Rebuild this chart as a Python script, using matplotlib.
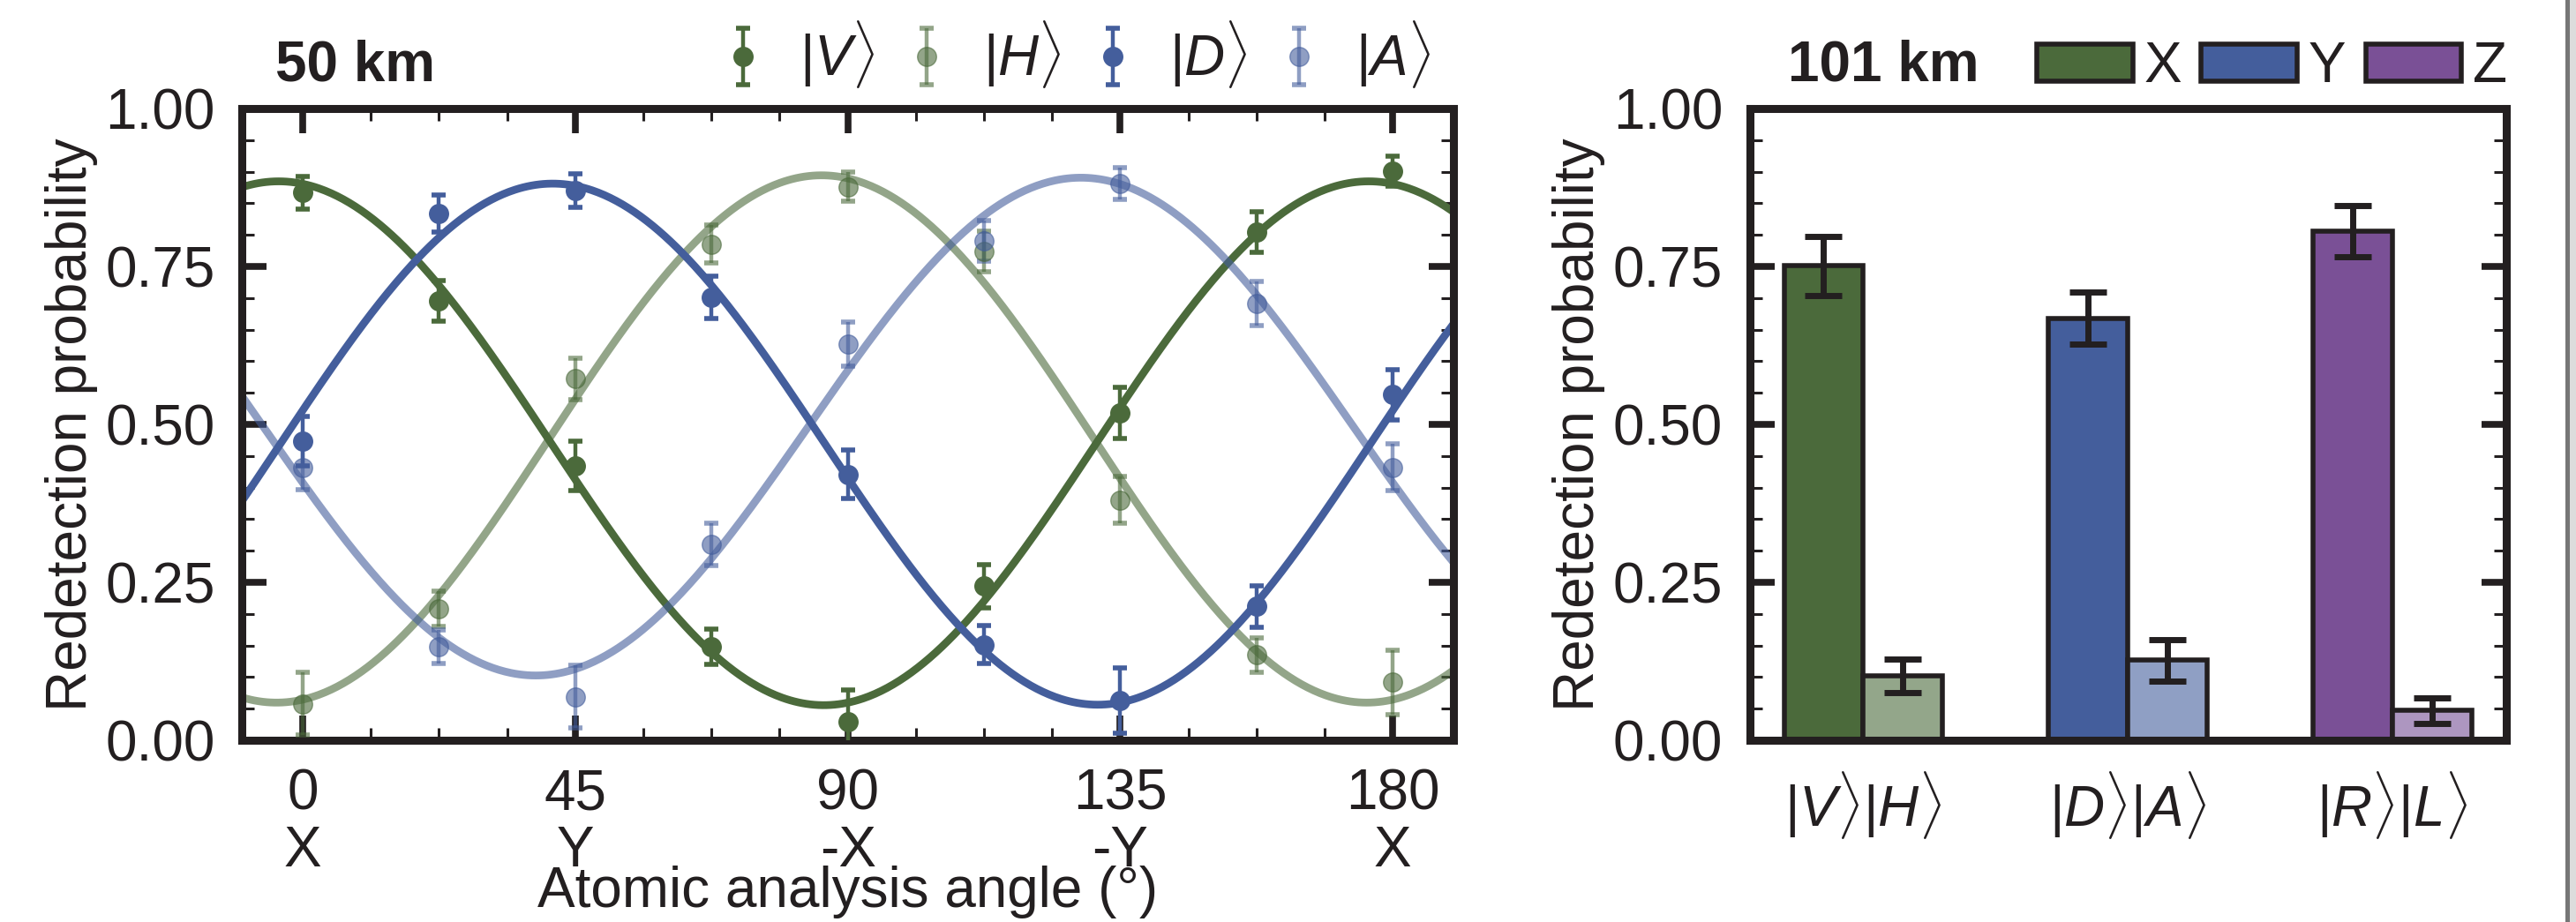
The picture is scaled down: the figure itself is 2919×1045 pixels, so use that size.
import numpy as np
import matplotlib
matplotlib.use('Agg')
import matplotlib.pyplot as plt
from matplotlib.patches import Patch, Rectangle

# ---------------- data ----------------
angles = [0, 22.5, 45, 67.5, 90, 112.5, 135, 157.5, 180]
V_vals = [0.867, 0.696, 0.434, 0.148, 0.029, 0.244, 0.518, 0.805, 0.901]
V_err = [0.026, 0.032, 0.039, 0.028, 0.050, 0.034, 0.040, 0.032, 0.024]
H_vals = [0.058, 0.208, 0.572, 0.785, 0.876, 0.774, 0.380, 0.135, 0.092]
H_err = [0.050, 0.028, 0.033, 0.030, 0.023, 0.032, 0.037, 0.027, 0.051]
D_vals = [0.473, 0.834, 0.870, 0.701, 0.421, 0.151, 0.063, 0.212, 0.547]
D_err = [0.039, 0.029, 0.027, 0.033, 0.038, 0.030, 0.052, 0.033, 0.040]
A_vals = [0.432, 0.148, 0.069, 0.310, 0.627, 0.790, 0.881, 0.691, 0.432]
A_err = [0.035, 0.026, 0.050, 0.033, 0.035, 0.032, 0.025, 0.035, 0.037]
series_labels = [r'$|V\rangle$', r'$|H\rangle$', r'$|D\rangle$', r'$|A\rangle$']

xtick_vals = [0, 45, 90, 135, 180]
xtick_labels = ['0\nX', '45\nY', '90\n-X', '135\n-Y', '180\nX']

bar_groups = [r'$|V\rangle|H\rangle$', r'$|D\rangle|A\rangle$', r'$|R\rangle|L\rangle$']
bar_high = [0.751, 0.668, 0.806]
bar_high_err = [0.047, 0.041, 0.040]
bar_low = [0.102, 0.1265, 0.047]
bar_low_err = [0.027, 0.033, 0.020]
basis_labels = ['X', 'Y', 'Z']

# ---------------- style ----------------
INK = '#231f20'
GREEN = '#4b6a3b'
BLUE = '#445e9c'
PURPLE = '#7a5096'
LIGHT = {GREEN: '#93a68a', BLUE: '#8f9fc4', PURPLE: '#ad96c0'}
FS = 46

plt.rcParams['font.family'] = ['Liberation Sans', 'DejaVu Sans']
plt.rcParams['mathtext.fontset'] = 'custom'
plt.rcParams['mathtext.rm'] = 'Liberation Sans'
plt.rcParams['mathtext.it'] = 'Liberation Sans:italic'
plt.rcParams['mathtext.bf'] = 'Liberation Sans:bold'
for k in ['text.color', 'axes.labelcolor', 'xtick.color', 'ytick.color', 'axes.edgecolor']:
    plt.rcParams[k] = INK

fig = plt.figure(figsize=(29.19, 10.45), dpi=100)
ax1 = fig.add_axes([0.0940, 0.1971, 0.4702, 0.6852])
ax2 = fig.add_axes([0.6792, 0.1971, 0.2936, 0.6852])

SPINE_W = 6.5

def style_axes(ax):
    for s in ax.spines.values():
        s.set_linewidth(SPINE_W)
        s.set_color(INK)

# ---------------- left panel ----------------
theta = np.asarray(angles, dtype=float)
grid = np.linspace(-10, 190, 600)
series = [(V_vals, V_err, GREEN, 1.0), (H_vals, H_err, GREEN, 0.6),
          (D_vals, D_err, BLUE, 1.0), (A_vals, A_err, BLUE, 0.6)]
handles = []
for (vals, err, col, a), lab in zip(series, series_labels):
    y = np.asarray(vals)
    M = np.column_stack([np.ones_like(theta), np.cos(np.radians(2 * theta)), np.sin(np.radians(2 * theta))])
    coef, *_ = np.linalg.lstsq(M, y, rcond=None)
    G = np.column_stack([np.ones_like(grid), np.cos(np.radians(2 * grid)), np.sin(np.radians(2 * grid))])
    ax1.plot(grid, G @ coef, color=col, alpha=a, lw=6.3, solid_capstyle='butt', zorder=2)
    h = ax1.errorbar(angles, vals, yerr=err, fmt='o', color=col, alpha=a, ms=15.5,
                     elinewidth=3.2, capsize=5.5, capthick=4, label=lab, zorder=3)
    handles.append(h)

ax1.set_xlim(-10, 190)
ax1.set_ylim(0, 1)
ax1.set_xticks(xtick_vals)
ax1.set_xticks(np.arange(0, 181, 11.25), minor=True)
ax1.set_xticklabels(xtick_labels, linespacing=1.08)
ax1.set_yticks([0, 0.25, 0.5, 0.75, 1.0])
ax1.set_yticklabels(['0.00', '0.25', '0.50', '0.75', '1.00'])
ax1.set_yticks(np.arange(0, 1.0001, 0.05), minor=True)
ax1.tick_params(which='both', direction='in', top=True, right=True, labelsize=FS)
ax1.tick_params(which='major', length=20, width=5.5)
ax1.tick_params(which='minor', length=10, width=2.2)
ax1.tick_params(axis='y', pad=22)
ax1.tick_params(axis='x', pad=23)
style_axes(ax1)
ax1.set_ylabel('Redetection probability', fontsize=FS)
ax1.yaxis.set_label_coords(-0.119, 0.5)
ax1.set_xlabel('Atomic analysis angle (°)', fontsize=FS, va='baseline')
ax1.xaxis.set_label_coords(0.5, -0.264)

fig.legend(handles=handles, loc='center', bbox_to_anchor=(0.4165, 0.9407),
           bbox_transform=fig.transFigure, ncol=4, frameon=False, fontsize=FS,
           handlelength=1.0, handletextpad=0.5, columnspacing=0.42,
           borderpad=0, borderaxespad=0)

fig.text(312 / 2919, 1 - 92 / 1045, '50 km', fontsize=FS, fontweight='bold',
         ha='left', va='baseline')

# ---------------- right panel ----------------
pos = np.arange(len(bar_groups))
w = 0.30
high_cols = [GREEN, BLUE, PURPLE]
low_cols = [LIGHT[c] for c in high_cols]
ax2.bar(pos - w / 2, bar_high, width=w, color=high_cols, edgecolor=INK, linewidth=4, zorder=2)
ax2.bar(pos + w / 2, bar_low, width=w, color=low_cols, edgecolor=INK, linewidth=4, zorder=2)
ax2.errorbar(pos - w / 2, bar_high, yerr=bar_high_err, fmt='none', ecolor=INK,
             elinewidth=5, capsize=15, capthick=5, zorder=3)
ax2.errorbar(pos + w / 2, bar_low, yerr=bar_low_err, fmt='none', ecolor=INK,
             elinewidth=5, capsize=15, capthick=5, zorder=3)
ax2.set_xlim(-0.43, 2.43)
ax2.set_ylim(0, 1)
ax2.set_xticks(pos)
ax2.set_xticklabels(bar_groups)
ax2.set_yticks([0, 0.25, 0.5, 0.75, 1.0])
ax2.set_yticklabels(['0.00', '0.25', '0.50', '0.75', '1.00'])
ax2.set_yticks(np.arange(0, 1.0001, 0.05), minor=True)
ax2.tick_params(axis='y', which='both', direction='in', left=True, right=True, labelsize=FS, pad=22)
ax2.tick_params(axis='y', which='major', length=20, width=5.5)
ax2.tick_params(axis='y', which='minor', length=10, width=2.2)
ax2.tick_params(axis='x', which='both', length=0, labelsize=FS, pad=24)
style_axes(ax2)
ax2.set_ylabel('Redetection probability', fontsize=FS)
ax2.yaxis.set_label_coords(-0.191, 0.5)

leg_handles = [Patch(facecolor=c, edgecolor=INK, linewidth=4, label=l) for c, l in zip(high_cols, basis_labels)]
fig.legend(handles=leg_handles, loc='center', bbox_to_anchor=(0.882, 0.927),
           bbox_transform=fig.transFigure, ncol=3, frameon=False, fontsize=FS,
           handlelength=1.7, handleheight=0.65, handletextpad=0.2, columnspacing=0.35,
           borderpad=0, borderaxespad=0)

fig.text(2026 / 2919, 1 - 92 / 1045, '101 km', fontsize=FS, fontweight='bold',
         ha='left', va='baseline')

# window edge at right
fig.add_artist(Rectangle((2912 / 2919, 0), 7 / 2919, 1, transform=fig.transFigure,
                         facecolor='#dcdcdc', edgecolor='none'))
fig.add_artist(Rectangle((2907 / 2919, 0), 5 / 2919, 1, transform=fig.transFigure,
                         facecolor='#767676', edgecolor='none'))

fig.savefig('out.png', dpi=100)
